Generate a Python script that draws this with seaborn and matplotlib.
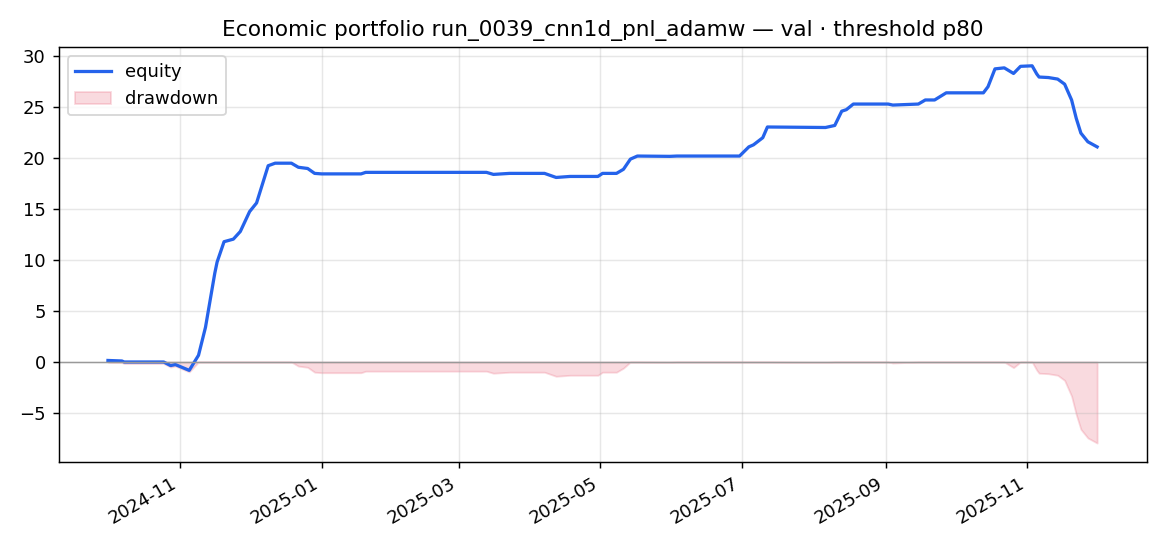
import pandas as pd
import numpy as np
import matplotlib
matplotlib.use("Agg")
import matplotlib.pyplot as plt
import matplotlib.dates as mdates
import seaborn as sns

# equity curve (date, cumulative pnl)
dates = ["2024-10-01", "2024-10-07", "2024-10-08", "2024-10-25", "2024-10-28", "2024-10-30",
         "2024-11-05", "2024-11-09", "2024-11-12", "2024-11-16", "2024-11-17", "2024-11-20",
         "2024-11-24", "2024-11-27", "2024-12-01", "2024-12-04", "2024-12-09", "2024-12-12",
         "2024-12-19", "2024-12-22", "2024-12-26", "2024-12-29", "2025-01-01", "2025-01-18",
         "2025-01-20", "2025-03-13", "2025-03-16", "2025-03-23", "2025-04-07", "2025-04-12",
         "2025-04-18", "2025-04-30", "2025-05-02", "2025-05-08", "2025-05-11", "2025-05-14",
         "2025-05-17", "2025-05-31", "2025-06-03", "2025-06-30", "2025-07-04", "2025-07-06",
         "2025-07-10", "2025-07-12", "2025-08-06", "2025-08-10", "2025-08-13", "2025-08-15",
         "2025-08-18", "2025-09-02", "2025-09-04", "2025-09-15", "2025-09-18", "2025-09-22",
         "2025-09-27", "2025-10-13", "2025-10-15", "2025-10-18", "2025-10-22", "2025-10-26",
         "2025-10-29", "2025-11-03", "2025-11-05", "2025-11-06", "2025-11-10", "2025-11-14",
         "2025-11-17", "2025-11-20", "2025-11-22", "2025-11-24", "2025-11-27", "2025-12-01"]
equity = [0.15, 0.1, 0.0, 0.0, -0.35, -0.25,
          -0.82, 0.66, 3.4, 8.7, 9.8, 11.8,
          12.05, 12.8, 14.75, 15.6, 19.25, 19.5,
          19.5, 19.1, 18.98, 18.5, 18.45, 18.45,
          18.6, 18.6, 18.4, 18.5, 18.5, 18.1,
          18.2, 18.2, 18.5, 18.5, 18.9, 19.9,
          20.2, 20.17, 20.2, 20.2, 21.1, 21.3,
          22.0, 23.05, 23.0, 23.2, 24.6, 24.75,
          25.3, 25.3, 25.2, 25.3, 25.7, 25.7,
          26.4, 26.4, 27.0, 28.75, 28.85, 28.3,
          29.0, 29.05, 28.25, 27.95, 27.9, 27.75,
          27.25, 25.7, 23.9, 22.45, 21.6, 21.1]

df = pd.DataFrame({"date": pd.to_datetime(dates), "equity": equity})
df["drawdown"] = df["equity"] - df["equity"].cummax()

fig, ax = plt.subplots(figsize=(9, 4.2), dpi=130)
fig.subplots_adjust(left=0.05, right=0.98, top=0.914, bottom=0.154)

ax.fill_between(df["date"], df["drawdown"], 0, color="#e8576f", alpha=0.22,
                label="drawdown")
sns.lineplot(data=df, x="date", y="equity", color="#2563eb", linewidth=1.8,
             label="equity", ax=ax)
ax.axhline(0, color="#999999", linewidth=0.8)

ax.xaxis.set_major_locator(mdates.MonthLocator(bymonth=[1, 3, 5, 7, 9, 11]))
ax.xaxis.set_major_formatter(mdates.DateFormatter("%Y-%m"))
fig.autofmt_xdate(rotation=30, ha="right")
fig.subplots_adjust(bottom=0.154)

ax.grid(alpha=0.3)
ax.set_xlabel("")
ax.set_ylabel("")
ax.set_title("Economic portfolio run_0039_cnn1d_pnl_adamw \u2014 val \u00b7 threshold p80")

handles, labels = ax.get_legend_handles_labels()
order = [labels.index("equity"), labels.index("drawdown")]
ax.legend([handles[i] for i in order], [labels[i] for i in order], loc="upper left")

plt.savefig("out.png")
